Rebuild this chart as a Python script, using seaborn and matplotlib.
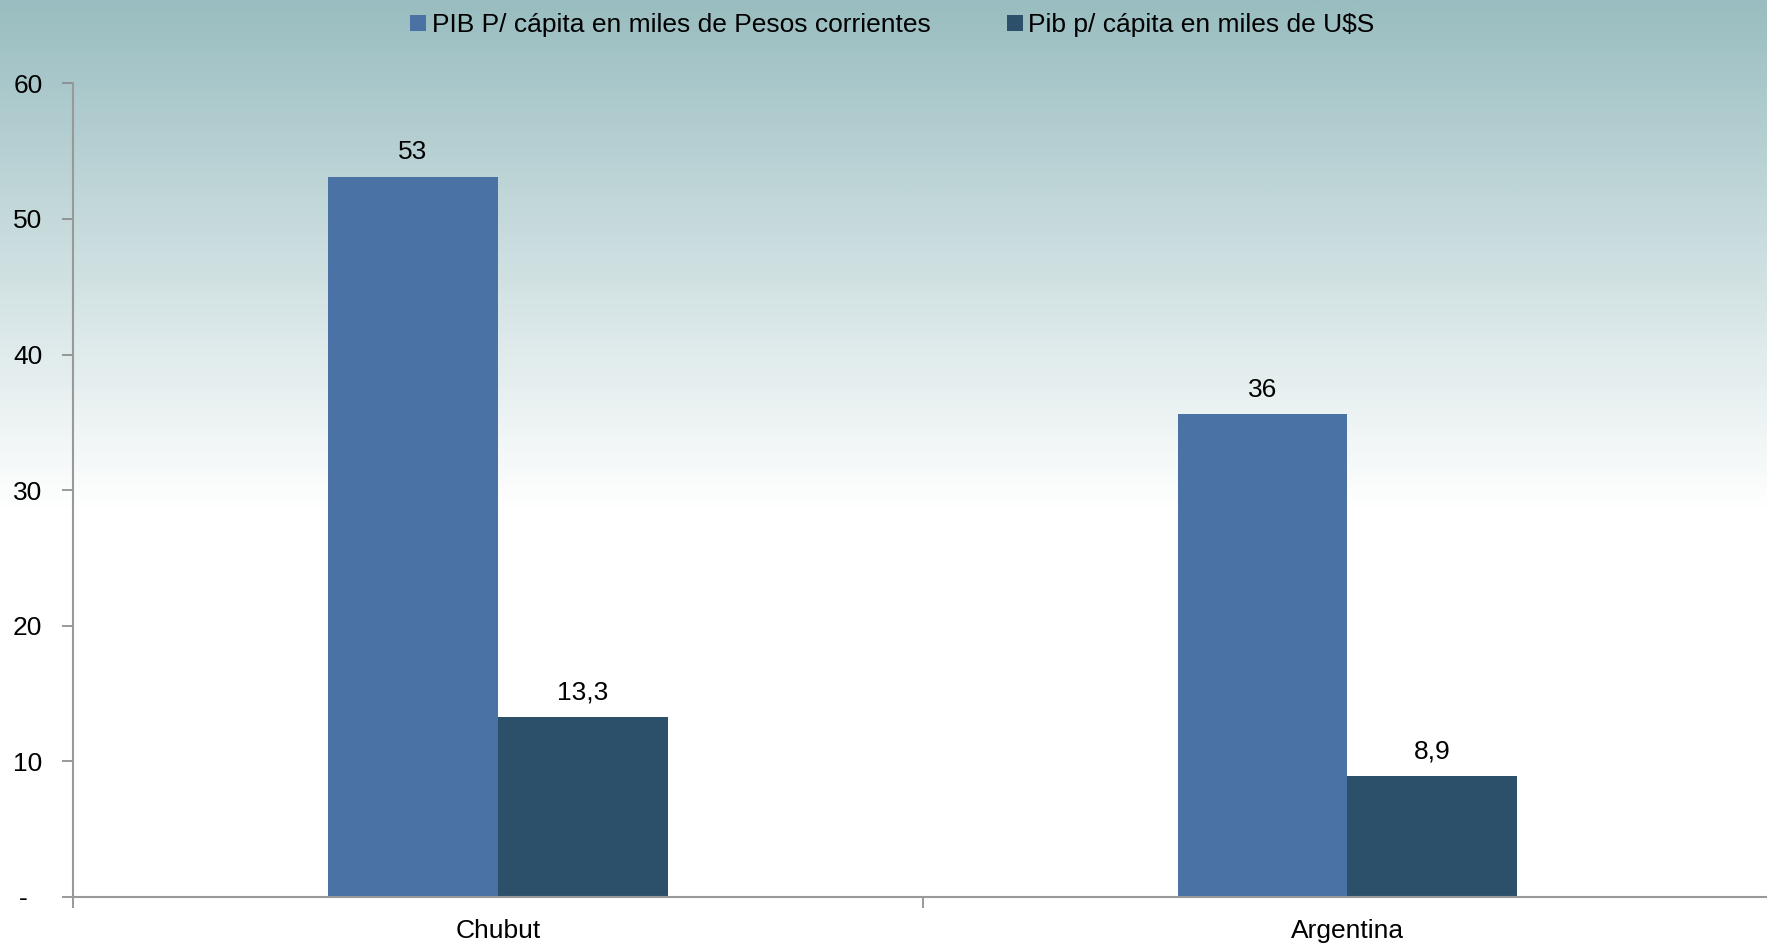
import numpy as np
import pandas as pd
import matplotlib
matplotlib.use("Agg")
import matplotlib.pyplot as plt
from matplotlib.colors import LinearSegmentedColormap
from matplotlib.patches import Patch
import seaborn as sns

# datos
regiones = ["Chubut", "Argentina"]
pib_pesos = [53.1, 35.6]
pib_usd = [13.3, 8.9]
etiquetas_pesos = ["53", "36"]
etiquetas_usd = ["13,3", "8,9"]
serie_pesos = "PIB P/ cápita en miles de Pesos corrientes"
serie_usd = "Pib p/ cápita en miles de U$S"

df = pd.DataFrame({
    "region": regiones * 2,
    "valor": pib_pesos + pib_usd,
    "serie": [serie_pesos] * 2 + [serie_usd] * 2,
})

sns.set_theme(style="white")
plt.rcParams["font.family"] = ["Liberation Sans", "DejaVu Sans"]
plt.rcParams["text.color"] = "black"

fig = plt.figure(figsize=(17.67, 9.43), dpi=100)

# fondo degradado
bg = fig.add_axes([0, 0, 1, 1], zorder=-10)
grad = np.clip(np.linspace(0, 1, 500) / 0.54, 0, 1).reshape(-1, 1)
cmap = LinearSegmentedColormap.from_list("fondo", ["#99bdc0", "#ffffff"])
bg.imshow(grad, aspect="auto", cmap=cmap, extent=[0, 1, 0, 1], origin="upper")
bg.set_axis_off()

ax = fig.add_axes([0.0413, 0.0488, 0.9617, 0.8628])
ax.patch.set_alpha(0)

colores = {serie_pesos: "#4a72a4", serie_usd: "#2c506a"}
sns.barplot(data=df, x="region", y="valor", hue="serie", palette=colores,
            width=0.4, ax=ax, edgecolor="none", saturation=1, legend=False)

for cont, labs in zip(ax.containers, [etiquetas_pesos, etiquetas_usd]):
    ax.bar_label(cont, labels=labs, padding=9, fontsize=19, color="black")

ax.set_xlim(-0.5, 1.5)
ax.set_ylim(0, 60)
ax.set_yticks(range(0, 61, 10))
ax.set_yticklabels(["-  "] + [str(v) for v in range(10, 61, 10)])
ax.set_xticks([-0.5, 0.5, 1.5], minor=True)
ax.tick_params(axis="x", which="minor", length=8, width=1.2, color="#888888", direction="out", bottom=True)
ax.tick_params(axis="x", which="major", length=0, pad=16, labelsize=19, labelcolor="black")
ax.tick_params(axis="y", length=8, width=1.2, color="#888888", direction="out", left=True,
               pad=14, labelsize=19, labelcolor="black")
ax.set_xlabel("")
ax.set_ylabel("")
for s in ["top", "right"]:
    ax.spines[s].set_visible(False)
for s in ["left", "bottom"]:
    ax.spines[s].set_color("#999999")
    ax.spines[s].set_linewidth(1.5)

# leyenda
handles = [Patch(facecolor=colores[serie_pesos], edgecolor="none"),
           Patch(facecolor=colores[serie_usd], edgecolor="none")]
fig.legend(handles, [serie_pesos, serie_usd], loc="upper center", bbox_to_anchor=(0.505, 1.011),
           ncol=2, frameon=False, fontsize=19, handlelength=0.6, handleheight=0.6,
           handletextpad=0.2, columnspacing=2.9, labelcolor="black")

fig.savefig("out.png", dpi=100)
